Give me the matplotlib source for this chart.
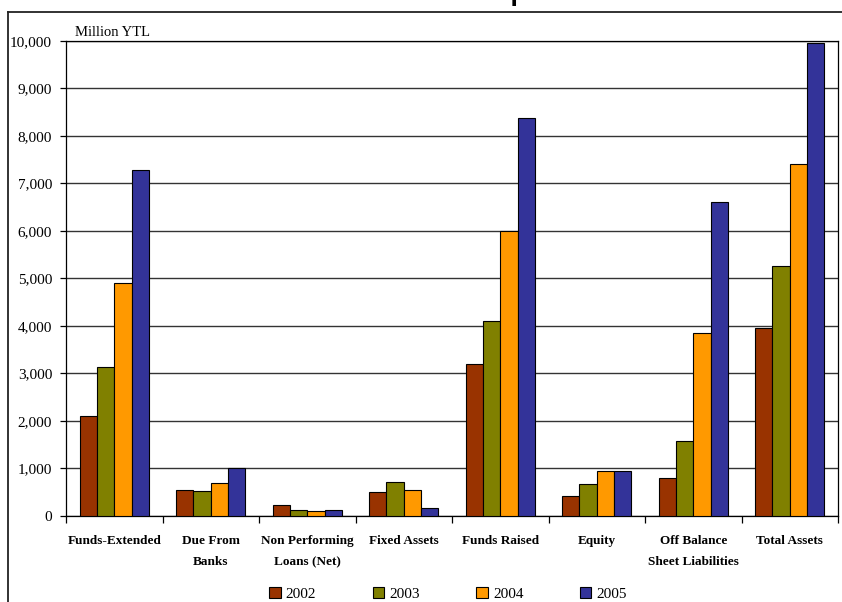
import matplotlib
matplotlib.use("Agg")
import matplotlib.pyplot as plt
import numpy as np
from matplotlib.lines import Line2D
from matplotlib.ticker import FuncFormatter, MultipleLocator

categories = ["Funds-Extended", "Due From\nBanks", "Non Performing\nLoans (Net)",
              "Fixed Assets", "Funds Raised", "Equity",
              "Off Balance\nSheet Liabilities", "Total Assets"]
years = ["2002", "2003", "2004", "2005"]
values_2002 = [2100, 540, 240, 500, 3200, 415, 810, 3960]
values_2003 = [3130, 520, 135, 720, 4110, 670, 1580, 5260]
values_2004 = [4900, 690, 105, 540, 6000, 950, 3860, 7400]
values_2005 = [7280, 1020, 130, 175, 8370, 955, 6600, 9950]
series = [values_2002, values_2003, values_2004, values_2005]
colors = ["#993300", "#808000", "#FF9900", "#333399"]

serif = ["Liberation Serif", "DejaVu Serif"]

fig = plt.figure(figsize=(8.42, 6.02), dpi=100)
W, H = 842, 602
ax = fig.add_axes([66 / W, 1 - 516 / H, (838 - 66) / W, (516 - 40.7) / H])

x = np.arange(len(categories))
width = 0.18
for i, (vals, col, yr) in enumerate(zip(series, colors, years)):
    ax.bar(x + (i - 1.5) * width, vals, width, color=col, edgecolor="black",
           linewidth=0.8, label=yr, zorder=3)

ax.set_xlim(-0.5, len(categories) - 0.5)
ax.set_ylim(0, 10000)
ax.yaxis.set_major_locator(MultipleLocator(1000))
ax.yaxis.set_major_formatter(FuncFormatter(lambda v, p: f"{int(v):,}"))
ax.grid(axis="y", color="#333333", linewidth=1.0, zorder=0)
ax.set_axisbelow(True)

for s in ax.spines.values():
    s.set_color("black")
    s.set_linewidth(0.9)

ax.tick_params(axis="y", direction="out", length=4, width=0.9, pad=6,
               labelsize=11)
for lab in ax.get_yticklabels():
    lab.set_family(serif)

ax.set_xticks(x)
ax.set_xticklabels(categories, fontsize=9.5, fontweight="bold", family=serif,
                   linespacing=2.0)
ax.tick_params(axis="x", which="major", length=0, pad=14)
ax.set_xticks(np.arange(-0.5, len(categories), 1.0), minor=True)
ax.tick_params(axis="x", which="minor", direction="out", length=5, width=0.9)

fig.text(75 / W, 1 - 36 / H, "Million YTL", family=serif, fontsize=10.5,
         va="baseline", ha="left")

# page heading, mostly above the frame
fig.text(5 / W, 1 + 0.5 / H, "Selected Balance Sheet Items of Participation Banks",
         family=["Liberation Sans", "DejaVu Sans"], fontweight="bold",
         fontsize=19.5, va="baseline", ha="left")

# outer frame (top and left edges)
fig.add_artist(Line2D([8 / W, 1.0], [1 - 12 / H, 1 - 12 / H], color="#222222",
                      linewidth=1.3, transform=fig.transFigure))
fig.add_artist(Line2D([8 / W, 8 / W], [1 - 12 / H, 0.0], color="#222222",
                      linewidth=1.3, transform=fig.transFigure))

leg = fig.legend(loc="center", bbox_to_anchor=(448 / W, 1 - 594 / H), ncol=4,
                 frameon=False, handlelength=0.75, handleheight=0.75,
                 handletextpad=0.35, columnspacing=3.68, borderpad=0.2,
                 prop={"family": serif, "size": 11})

fig.savefig("out.png", dpi=100)
